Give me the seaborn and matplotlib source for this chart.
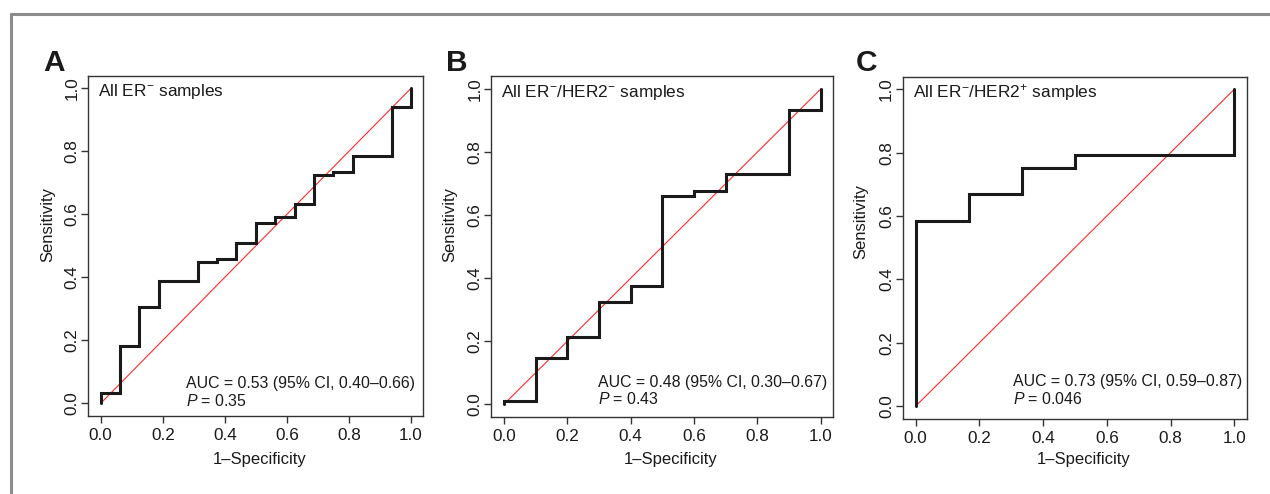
import matplotlib
matplotlib.use("Agg")
import matplotlib.pyplot as plt
import seaborn as sns
import pandas as pd
from matplotlib.lines import Line2D

# ---------------- data ----------------
panel_letters = ["A", "B", "C"]
panel_titles = [r"All ER$^{-}$ samples",
                r"All ER$^{-}$/HER2$^{-}$ samples",
                r"All ER$^{-}$/HER2$^{+}$ samples"]
auc_texts = ["AUC = 0.53 (95% CI, 0.40\u20130.66)",
             "AUC = 0.48 (95% CI, 0.30\u20130.67)",
             "AUC = 0.73 (95% CI, 0.59\u20130.87)"]
p_texts = ["0.35", "0.43", "0.046"]

fpr_a = [0, 0, 0.0625, 0.125, 0.1875, 0.3125, 0.375, 0.4375, 0.5, 0.5625,
         0.625, 0.6875, 0.75, 0.8125, 0.9375, 1.0]
tpr_a = [0, 0.032, 0.182, 0.305, 0.388, 0.448, 0.458, 0.51, 0.571, 0.593,
         0.633, 0.725, 0.735, 0.786, 0.94, 1.0]

fpr_b = [0, 0, 0.1, 0.2, 0.3, 0.4, 0.5, 0.6, 0.7, 0.9, 1.0]
tpr_b = [0, 0.01, 0.148, 0.215, 0.323, 0.376, 0.662, 0.675, 0.729, 0.933, 1.0]

fpr_c = [0, 0, 0.1667, 0.3333, 0.5, 1.0]
tpr_c = [0, 0.584, 0.668, 0.75, 0.793, 1.0]

ticks = [0.0, 0.2, 0.4, 0.6, 0.8, 1.0]
tick_labels = ["0.0", "0.2", "0.4", "0.6", "0.8", "1.0"]
diag = [0.0, 1.0]

# ---------------- style ----------------
sns.set_theme(style="ticks")
plt.rcParams["font.family"] = ["Liberation Sans", "DejaVu Sans"]
plt.rcParams["mathtext.fontset"] = "custom"
plt.rcParams["mathtext.rm"] = "Liberation Sans"
plt.rcParams["mathtext.it"] = "Liberation Sans:italic"
plt.rcParams["mathtext.bf"] = "Liberation Sans:bold"

W, H = 1270, 494
fig = plt.figure(figsize=(W / 100, H / 100), dpi=100)

# axes boxes in pixel coordinates (left, right, top, bottom)
boxes = [(88.3, 423.4, 75.7, 415.9),
         (491.3, 833.4, 76.4, 416.9),
         (903.0, 1247.0, 76.6, 418.7)]
ylab_pos = [(-0.120, 0.563), (-0.1216, 0.5636), (-0.1227, 0.575)]
xlab_pos = [(0.512, -0.1267), (0.525, -0.124), (0.525, -0.118)]
auc_pos = [(0.275, 0.048, -0.009), (0.296, 0.056, 0.0), (0.306, 0.063, 0.005)]
letter_x = [43, 446, 856]

curves = [(fpr_a, tpr_a), (fpr_b, tpr_b), (fpr_c, tpr_c)]
ink = "#1a1a1a"

for i in range(3):
    l, r, t, b = boxes[i]
    ax = fig.add_axes([l / W, (H - b) / H, (r - l) / W, (b - t) / H])
    fpr, tpr = curves[i]
    df = pd.DataFrame({"fpr": fpr, "tpr": tpr})
    sns.lineplot(x=diag, y=diag, ax=ax, color="#ff2a2a", linewidth=0.8)
    sns.lineplot(data=df, x="fpr", y="tpr", ax=ax, sort=False, estimator=None,
                 drawstyle="steps-post", color=ink, linewidth=2.2,
                 solid_joinstyle="miter")
    ax.set_xlim(-0.04, 1.04)
    ax.set_ylim(-0.04, 1.04)
    ax.set_xticks(ticks)
    ax.set_xticklabels(tick_labels)
    ax.set_yticks(ticks)
    ax.set_yticklabels(tick_labels, rotation=90, va="center")
    ax.tick_params(axis="both", direction="out", length=5, width=1.0,
                   color="#333333", labelsize=12.3, labelcolor=ink)
    ax.tick_params(axis="x", pad=3.5)
    ax.tick_params(axis="y", pad=1.5)
    for s in ax.spines.values():
        s.set_visible(True)
        s.set_linewidth(1.0)
        s.set_color("#333333")
    ax.set_xlabel("1\u2013Specificity", fontsize=12, color=ink)
    ax.set_ylabel("Sensitivity", fontsize=12, color=ink)
    ax.xaxis.set_label_coords(*xlab_pos[i])
    ax.yaxis.set_label_coords(*ylab_pos[i])
    ax.xaxis.label.set_va("center")
    ax.yaxis.label.set_va("center")
    ax.grid(False)

    ax.text(-0.008, 0.976, panel_titles[i], fontsize=12.4, color=ink,
            ha="left", va="baseline")
    ax.text(auc_pos[i][0], auc_pos[i][1], auc_texts[i], fontsize=11.4, color=ink,
            ha="left", va="baseline")
    ax.text(auc_pos[i][0], auc_pos[i][2], r"$P$ = " + p_texts[i], fontsize=11.4,
            color=ink, ha="left", va="baseline")

    fig.text(letter_x[i] / W, 1 - 71 / H, panel_letters[i], fontsize=21.5,
             fontweight="bold", color=ink, ha="left", va="baseline")

# outer gray frame (top and left edges visible)
fig.add_artist(Line2D([11 / W, 11 / W], [0, 1 - 14 / H], transform=fig.transFigure,
                      color="#8c8c8c", linewidth=2.2))
fig.add_artist(Line2D([11 / W, 1], [1 - 14 / H, 1 - 14 / H], transform=fig.transFigure,
                      color="#8c8c8c", linewidth=2.2))

fig.savefig("out.png", dpi=100, facecolor="white")
